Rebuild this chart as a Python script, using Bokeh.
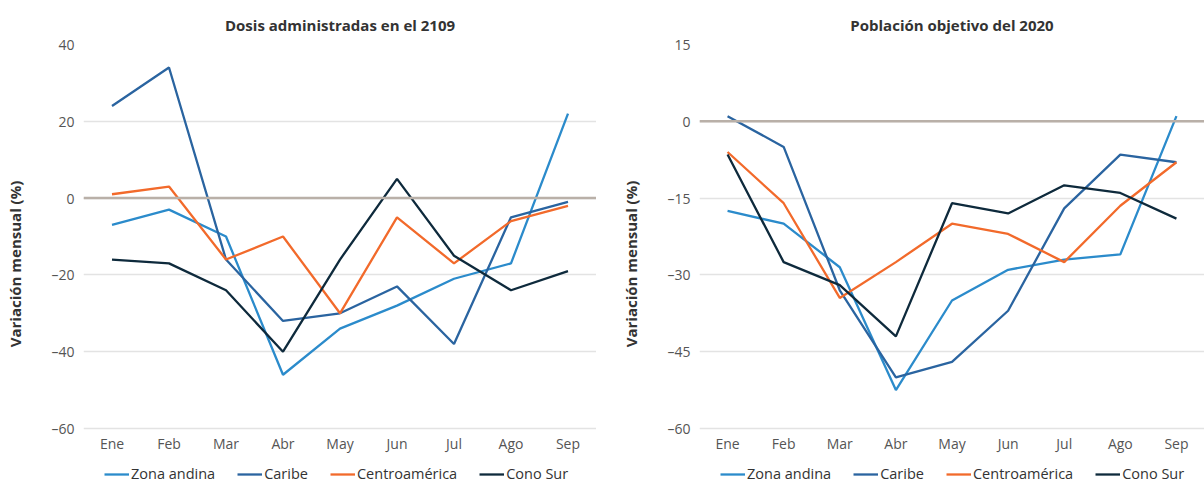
from bokeh.plotting import figure
from bokeh.models import Range1d, FactorRange, Span, Legend, LegendItem
from bokeh.layouts import row
from bokeh.embed import file_html
from bokeh.resources import INLINE

months = ["Ene", "Feb", "Mar", "Abr", "May", "Jun", "Jul", "Ago", "Sep"]
series_names = ["Zona andina", "Caribe", "Centroamérica", "Cono Sur"]

# Left panel: Dosis administradas en el 2109
left_zona_andina = [-7, -3, -10, -46, -34, -28, -21, -17, 22]
left_caribe = [24, 34, -16, -32, -30, -23, -38, -5, -1]
left_centroamerica = [1, 3, -16, -10, -30, -5, -17, -6, -2]
left_cono_sur = [-16, -17, -24, -40, -16, 5, -15, -24, -19]
left_ticks = [40, 20, 0, -20, -40, -60]

# Right panel: Población objetivo del 2020
right_zona_andina = [-17.5, -20, -28.5, -52.5, -35, -29, -27, -26, 1]
right_caribe = [1, -5, -33, -50, -47, -37, -17, -6.5, -8]
right_centroamerica = [-6, -16, -34.5, -27.5, -20, -22, -27.5, -16.5, -8]
right_cono_sur = [-6.5, -27.5, -32, -42, -16, -18, -12.5, -14, -19]
right_ticks = [15, 0, -15, -30, -45, -60]

colors = ["#2b8bcb", "#2a64a0", "#f26a2b", "#0e2a3c"]
FONT = "Open Sans"

HEIGHT = 483
TOP = 44          # frame top (pixel of the highest tick)
AXIS_PX = 384     # pixels between highest and lowest tick


def make_panel(title, data, ticks, width, border_left):
    hi, lo = max(ticks), min(ticks)
    per_px = (hi - lo) / AXIS_PX
    bottom = lo - (HEIGHT - TOP - AXIS_PX) * per_px   # room for x labels + legend
    p = figure(
        x_range=FactorRange(*months, range_padding=0),
        y_range=Range1d(bottom, hi),
        width=width, height=HEIGHT,
        output_backend="svg", toolbar_location=None,
        min_border_left=border_left, min_border_right=0,
        min_border_top=TOP, min_border_bottom=0,
        title=title,
    )
    p.outline_line_color = None
    p.background_fill_color = "white"
    p.border_fill_color = "white"

    p.title.align = "center"
    p.title.text_font = FONT
    p.title.text_font_style = "bold"
    p.title.text_font_size = "15px"
    p.title.text_color = "#333333"
    p.title.standoff = 20

    p.xgrid.grid_line_color = None
    p.ygrid.grid_line_color = "#e3e3e3"
    p.ygrid.grid_line_width = 1.5
    p.yaxis.ticker = ticks

    for ax in (p.xaxis[0], p.yaxis[0]):
        ax.axis_line_color = None
        ax.major_tick_line_color = None
        ax.minor_tick_line_color = None
        ax.major_tick_out = 0
        ax.major_tick_in = 0
        ax.minor_tick_out = 0
        ax.major_label_text_font = FONT
        ax.major_label_text_font_size = "14px"
        ax.major_label_text_color = "#555555"
    p.xaxis.fixed_location = lo
    p.xaxis.major_label_standoff = 5
    p.yaxis.major_label_overrides = {t: (str(t) if t >= 0 else "\u2013" + str(-t)) for t in ticks}
    p.yaxis.axis_label = "Variación mensual (%)"
    p.yaxis.axis_label_text_font = FONT
    p.yaxis.axis_label_text_font_style = "bold"
    p.yaxis.axis_label_text_font_size = "15px"
    p.yaxis.axis_label_text_color = "#333333"
    p.yaxis.axis_label_standoff = 23
    p.yaxis.major_label_standoff = 9

    p.add_layout(Span(location=0, dimension="width", line_color="#b9b0a8", line_width=2.5))

    items = []
    for name, vals, c in zip(series_names, data, colors):
        r = p.line(months, vals, line_color=c, line_width=2.3)
        items.append(LegendItem(label=name, renderers=[r]))

    legend = Legend(
        items=items, orientation="horizontal", location=(21, 0),
        label_text_font=FONT, label_text_font_size="14.5px", label_text_color="#333333",
        glyph_width=25, glyph_height=18, label_height=18, label_standoff=2, spacing=22,
        border_line_color=None, background_fill_alpha=0, padding=0, margin=0,
    )
    p.add_layout(legend)
    return p


p1 = make_panel("Dosis administradas en el 2109",
                [left_zona_andina, left_caribe, left_centroamerica, left_cono_sur],
                left_ticks, 596, 83)
p2 = make_panel("Población objetivo del 2020",
                [right_zona_andina, right_caribe, right_centroamerica, right_cono_sur],
                right_ticks, 604, 99)

layout = row(p1, p2, spacing=4)
open("out.html", "w").write(file_html(layout, INLINE))
